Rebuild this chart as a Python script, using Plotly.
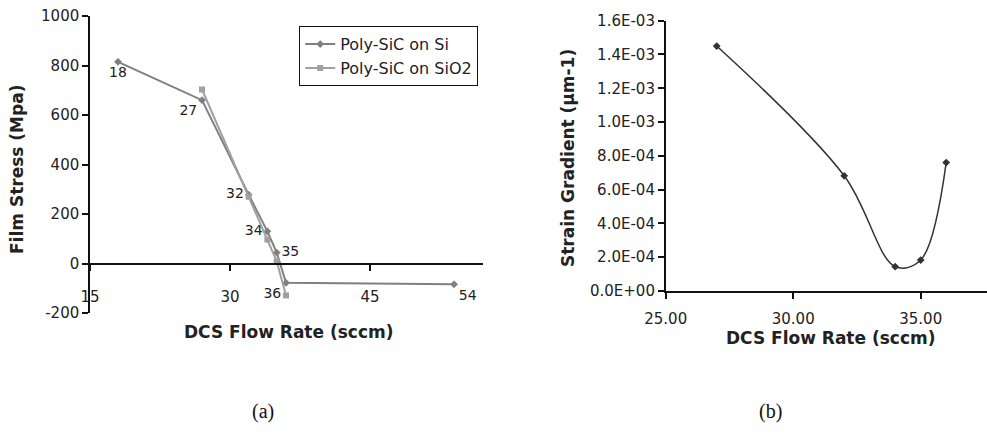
import plotly.graph_objects as go

# ---- data (a) ----
flow_si = [18, 27, 32, 34, 35, 36, 54]
stress_si = [815, 660, 278, 130, 44, -78, -84]
flow_sio2 = [27, 32, 34, 35, 36]
stress_sio2 = [703, 270, 97, 9, -129]
label_pos_si = ["bottom center", "bottom left", "middle left", "middle left",
                "middle right", "bottom left", "bottom right"]
stress_ticks = [-200, 0, 200, 400, 600, 800, 1000]
stress_ticktext = ["-200", "0", "200", "400", "600", "800", "1000"]
flow_ticks_a = [15, 30, 45]

# ---- data (b) ----
flow_b = [27, 32, 34, 35, 36]
strain_b = [1.45e-3, 6.82e-4, 1.44e-4, 1.83e-4, 7.6e-4]
strain_ticks = [0, 2e-4, 4e-4, 6e-4, 8e-4, 1e-3, 1.2e-3, 1.4e-3, 1.6e-3]
strain_ticktext = ["0.0E+00", "2.0E-04", "4.0E-04", "6.0E-04", "8.0E-04",
                   "1.0E-03", "1.2E-03", "1.4E-03", "1.6E-03"]
flow_ticks_b = [25, 30, 35]

W, H = 987, 435
def py(px):
    return (H - px) / H
def pxx(px):
    return px / W

FONT = "DejaVu Sans, Arial, sans-serif"
fig = go.Figure()

fig.add_trace(go.Scatter(
    x=flow_si, y=stress_si, mode="lines+markers+text", name="Poly-SiC on Si",
    text=[str(v) for v in flow_si], textposition=label_pos_si,
    textfont=dict(family=FONT, size=14, color="#222"),
    line=dict(color="#808080", width=2), marker=dict(symbol="diamond", size=6, color="#808080"),
    xaxis="x", yaxis="y"))
fig.add_trace(go.Scatter(
    x=flow_sio2, y=stress_sio2, mode="lines+markers", name="Poly-SiC on SiO2",
    line=dict(color="#a0a0a0", width=2), marker=dict(symbol="square", size=6, color="#a0a0a0"),
    xaxis="x", yaxis="y"))

fig.add_trace(go.Scatter(
    x=flow_b, y=strain_b, mode="lines+markers", showlegend=False,
    line=dict(color="#333", width=1.5, shape="spline", smoothing=1.0),
    marker=dict(symbol="diamond", size=6, color="#333"),
    xaxis="x2", yaxis="y2"))

tickfont = dict(family=FONT, size=15, color="#222")
common = dict(ticks="outside", ticklen=6, tickwidth=1.5, tickcolor="#111", showline=True,
              linecolor="#111", linewidth=1.5, showgrid=False, zeroline=False,
              automargin=False, tickfont=tickfont)

fig.update_layout(
    template="none",
    width=W, height=H, margin=dict(l=0, r=0, t=0, b=0, pad=0, autoexpand=False),
    paper_bgcolor="white", plot_bgcolor="white",
    font=dict(family=FONT, color="#222"),
    showlegend=True,
    legend=dict(x=pxx(299), y=py(26), xanchor="left", yanchor="top",
                bordercolor="#111", borderwidth=1.2, bgcolor="white",
                font=dict(family=FONT, size=16, color="#222"),
                itemwidth=30, tracegroupgap=0),
    xaxis=dict(domain=[pxx(90), pxx(483)], range=[15, 57.1],
               anchor="free", position=py(264),
               tickvals=flow_ticks_a, ticklabelstandoff=13, **common),
    yaxis=dict(domain=[py(313), py(16)], range=[-200, 1000], anchor="x",
               tickvals=stress_ticks, ticktext=stress_ticktext, **common),
    xaxis2=dict(domain=[pxx(665.7), 1.0], range=[25, 37.6], anchor="y2",
                tickvals=flow_ticks_b, tickformat=".2f", ticklabelstandoff=7, **common),
    yaxis2=dict(domain=[py(291), py(20.7)], range=[0, 1.6e-3], anchor="x2",
                tickvals=strain_ticks, ticktext=strain_ticktext, **common),
)

title_font = dict(family=FONT, size=17, color="#222")
annots = [
    dict(text="<b>Film Stress (Mpa)</b>", x=pxx(17), y=py(170), textangle=-90),
    dict(text="<b>DCS Flow Rate (sccm)</b>", x=pxx(288), y=py(332), textangle=0),
    dict(text="<b>Strain Gradient (µm-1)</b>", x=pxx(568), y=py(158), textangle=-90),
    dict(text="<b>DCS Flow Rate (sccm)</b>", x=pxx(830), y=py(338), textangle=0),
]
for a in annots:
    fig.add_annotation(xref="paper", yref="paper", showarrow=False,
                       xanchor="center", yanchor="middle", font=title_font, **a)

for txt, xc in [("(a)", 263), ("(b)", 770)]:
    fig.add_annotation(xref="paper", yref="paper", showarrow=False, text=txt,
                       x=pxx(xc), y=py(411), xanchor="center", yanchor="middle",
                       font=dict(family="Liberation Serif, Times New Roman, serif", size=20, color="#111"))

fig.write_html("out.html")
